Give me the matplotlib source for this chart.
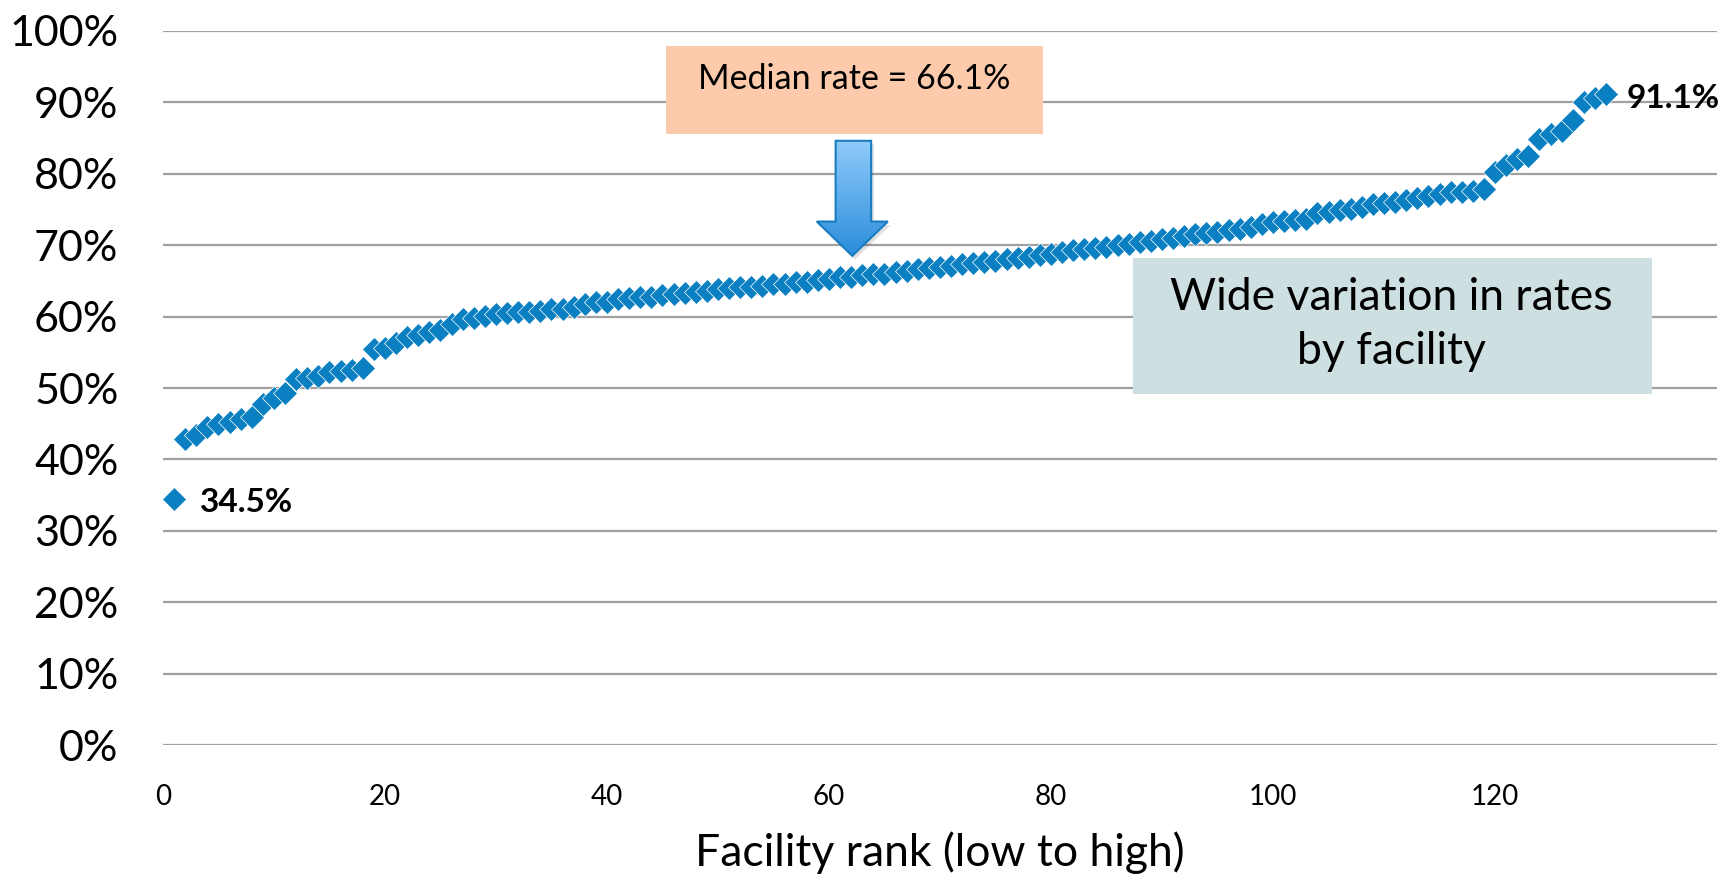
import matplotlib
matplotlib.use("Agg")
import matplotlib.pyplot as plt
import numpy as np
from matplotlib.patches import Polygon, Rectangle
from matplotlib.ticker import PercentFormatter
from matplotlib.colors import LinearSegmentedColormap

plt.rcParams['font.family'] = ['Lato', 'DejaVu Sans']

rates = [34.5, 42.8, 43.4, 44.6, 45.0, 45.2, 45.6, 45.9, 47.8, 48.6,
         49.3, 51.2, 51.4, 51.7, 52.2, 52.4, 52.5, 52.8, 55.5, 55.6,
         56.3, 57.2, 57.4, 57.8, 58.1, 58.9, 59.6, 59.8, 60.1, 60.3,
         60.5, 60.6, 60.7, 60.8, 61.0, 61.1, 61.3, 61.8, 62.0, 62.1,
         62.4, 62.6, 62.7, 62.8, 63.0, 63.1, 63.3, 63.5, 63.6, 63.8,
         64.0, 64.1, 64.2, 64.3, 64.5, 64.6, 64.8, 64.9, 65.1, 65.3,
         65.5, 65.6, 65.8, 65.9, 66.0, 66.2, 66.4, 66.6, 66.8, 67.0,
         67.1, 67.3, 67.5, 67.7, 67.8, 68.0, 68.2, 68.4, 68.6, 68.8,
         69.1, 69.3, 69.5, 69.6, 69.8, 70.0, 70.2, 70.4, 70.6, 70.8,
         71.0, 71.3, 71.5, 71.7, 71.9, 72.1, 72.3, 72.6, 72.9, 73.2,
         73.4, 73.5, 73.6, 74.5, 74.7, 74.9, 75.1, 75.4, 75.7, 75.9,
         76.1, 76.3, 76.6, 76.9, 77.2, 77.4, 77.5, 77.6, 77.8, 80.3,
         81.2, 82.0, 82.5, 84.8, 85.5, 86.0, 87.5, 90.0, 90.6, 91.1]
ranks = list(range(1, len(rates) + 1))
x_ticks = [0, 20, 40, 60, 80, 100, 120]
y_ticks = [0, 10, 20, 30, 40, 50, 60, 70, 80, 90, 100]
median_text = "Median rate = 66.1%"
note_text = "Wide variation in rates\nby facility"
x_label = "Facility rank (low to high)"

fig = plt.figure(figsize=(17.26, 8.77), dpi=100)
ax = fig.add_axes([0.0944, 0.1502, 0.9004, 0.8147])
ax.set_xlim(0, 140)
ax.set_ylim(0, 100)

for v in y_ticks:
    ax.axhline(v, color='#a0a0a0', lw=1.6, zorder=1)
for s in ax.spines.values():
    s.set_visible(False)

ax.plot(ranks, rates, linestyle='none', marker='D', markersize=12,
        markerfacecolor='#0a80c2', markeredgecolor='white', markeredgewidth=0.5,
        zorder=3)

ax.set_xticks(x_ticks)
ax.set_yticks(y_ticks)
ax.yaxis.set_major_formatter(PercentFormatter(decimals=0))
ax.tick_params(axis='y', length=0, pad=32, labelsize=31)
ax.tick_params(axis='x', length=0, pad=28, labelsize=20)
ax.set_xlabel(x_label, fontsize=32)
ax.xaxis.set_label_coords(0.5, -0.151)
ax.xaxis.label.set_va('center')

# data labels
ax.annotate(f"{rates[0]:.1f}%", (ranks[0], rates[0]), xytext=(26, -4),
            textcoords='offset pixels', fontsize=24, fontweight='bold',
            va='center', ha='left', zorder=4)
ax.annotate(f"{rates[-1]:.1f}%", (ranks[-1], rates[-1]), xytext=(21, -4),
            textcoords='offset pixels', fontsize=24, fontweight='bold',
            va='center', ha='left', zorder=4)

# median box
ax.add_patch(Rectangle((45.3, 85.6), 34.0, 12.3, facecolor='#fdcbac',
                       edgecolor='none', zorder=5, clip_on=False))
ax.text(62.3, 93.2, median_text, fontsize=24.5, ha='center', va='center',
        zorder=6)

# gradient arrow
arrow_pts = [(60.6, 84.6), (63.8, 84.6), (63.8, 73.3), (65.3, 73.3),
             (62.1, 68.5), (58.9, 73.3), (60.6, 73.3)]
shadow = Polygon([(px + 0.25, py - 0.5) for px, py in arrow_pts], closed=True,
                 facecolor='#000000', alpha=0.12, edgecolor='none', zorder=5)
ax.add_patch(shadow)
arrow = Polygon(arrow_pts, closed=True, facecolor='none', edgecolor='#1a7cc0',
                lw=1.5, zorder=7)
ax.add_patch(arrow)
grad = np.linspace(0, 1, 256).reshape(-1, 1)
cmap = LinearSegmentedColormap.from_list('g', ['#2a8ddb', '#90cbfa'])
im = ax.imshow(grad, extent=(58.9, 65.3, 68.5, 84.6), origin='lower',
               cmap=cmap, aspect='auto', zorder=6)
im.set_clip_path(arrow)

# note box
ax.add_patch(Rectangle((87.4, 49.2), 46.7, 19.0, facecolor='#cddfe0',
                       edgecolor='none', zorder=5))
ax.text(110.7, 58.9, note_text, fontsize=32, ha='center', va='center',
        linespacing=1.4, zorder=6)

fig.savefig('out.png', dpi=100)
